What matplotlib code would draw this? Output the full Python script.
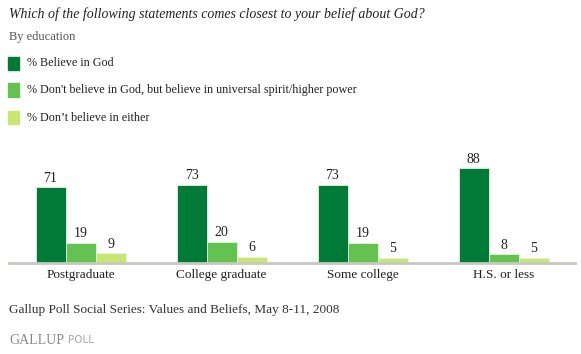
import numpy as np
import matplotlib.pyplot as plt
from matplotlib.patches import Rectangle

categories = ['Postgraduate', 'College graduate', 'Some college', 'H.S. or less']
believe_god = [71, 73, 73, 88]
higher_power = [19, 20, 19, 8]
neither = [9, 6, 5, 5]
series_labels = ['% Believe in God',
                 "% Don't believe in God, but believe in universal spirit/higher power",
                 '% Don\u2019t believe in either']
colors = ['#007A37', '#64C250', '#C9E672']

W, H = 581, 354
fig = plt.figure(figsize=(W / 100, H / 100), dpi=100)
plt.rcParams['font.family'] = ['Liberation Serif', 'DejaVu Serif']

def fx(px):
    return px / W

def fy(py):
    return 1 - py / H

ax = fig.add_axes([fx(9), fy(263), fx(575) - fx(9), fy(155.5) - fy(263)])
x = np.arange(len(categories))
bw = 30 / 141
for i, vals in enumerate([believe_god, higher_power, neither]):
    bars = ax.bar(x + (i - 1) * bw, vals, width=bw, color=colors[i],
                  edgecolor='#E8F2E0', linewidth=0.6)
    for b, v in zip(bars, vals):
        ax.text(b.get_x() + b.get_width() / 2, v + 2, str(v), ha='center',
                va='bottom', fontsize=10, color='#222222')

ax.set_xlim((9 - 80.5) / 141, (575 - 80.5) / 141)
ax.set_ylim(0, 100)
for s in ['top', 'right', 'left']:
    ax.spines[s].set_visible(False)
ax.spines['bottom'].set_color('#C8C8C0')
ax.spines['bottom'].set_linewidth(2)
ax.set_yticks([])
ax.set_xticks(x)
ax.set_xticklabels(categories, fontsize=9.5, color='#222222')
ax.tick_params(axis='x', length=0, pad=4)

fig.text(fx(9), fy(14), 'Which of the following statements comes closest to your belief about God?',
         fontsize=10, style='italic', va='center', color='#222222')
fig.text(fx(9), fy(37), 'By education', fontsize=9, va='center', color='#555555')

legend_y = [63.5, 90, 117.5]
for ly, lab, c in zip(legend_y, series_labels, colors):
    fig.patches.append(Rectangle((fx(8), fy(ly + 6.5)), fx(11), 13 / H,
                                 transform=fig.transFigure, color=c))
    fig.text(fx(27), fy(ly), lab, fontsize=8.7, va='center', color='#222222')

fig.text(fx(9), fy(310), 'Gallup Poll Social Series: Values and Beliefs, May 8-11, 2008',
         fontsize=9.5, va='center', color='#333333')
fig.text(fx(9), fy(340), 'GALLUP', fontsize=10, va='center', color='#8A8A8A')
fig.text(fx(68), fy(340), 'POLL', fontsize=7.5, va='center', color='#A8A8A8',
         family=['DejaVu Sans'])

fig.savefig('out.png', dpi=100)
